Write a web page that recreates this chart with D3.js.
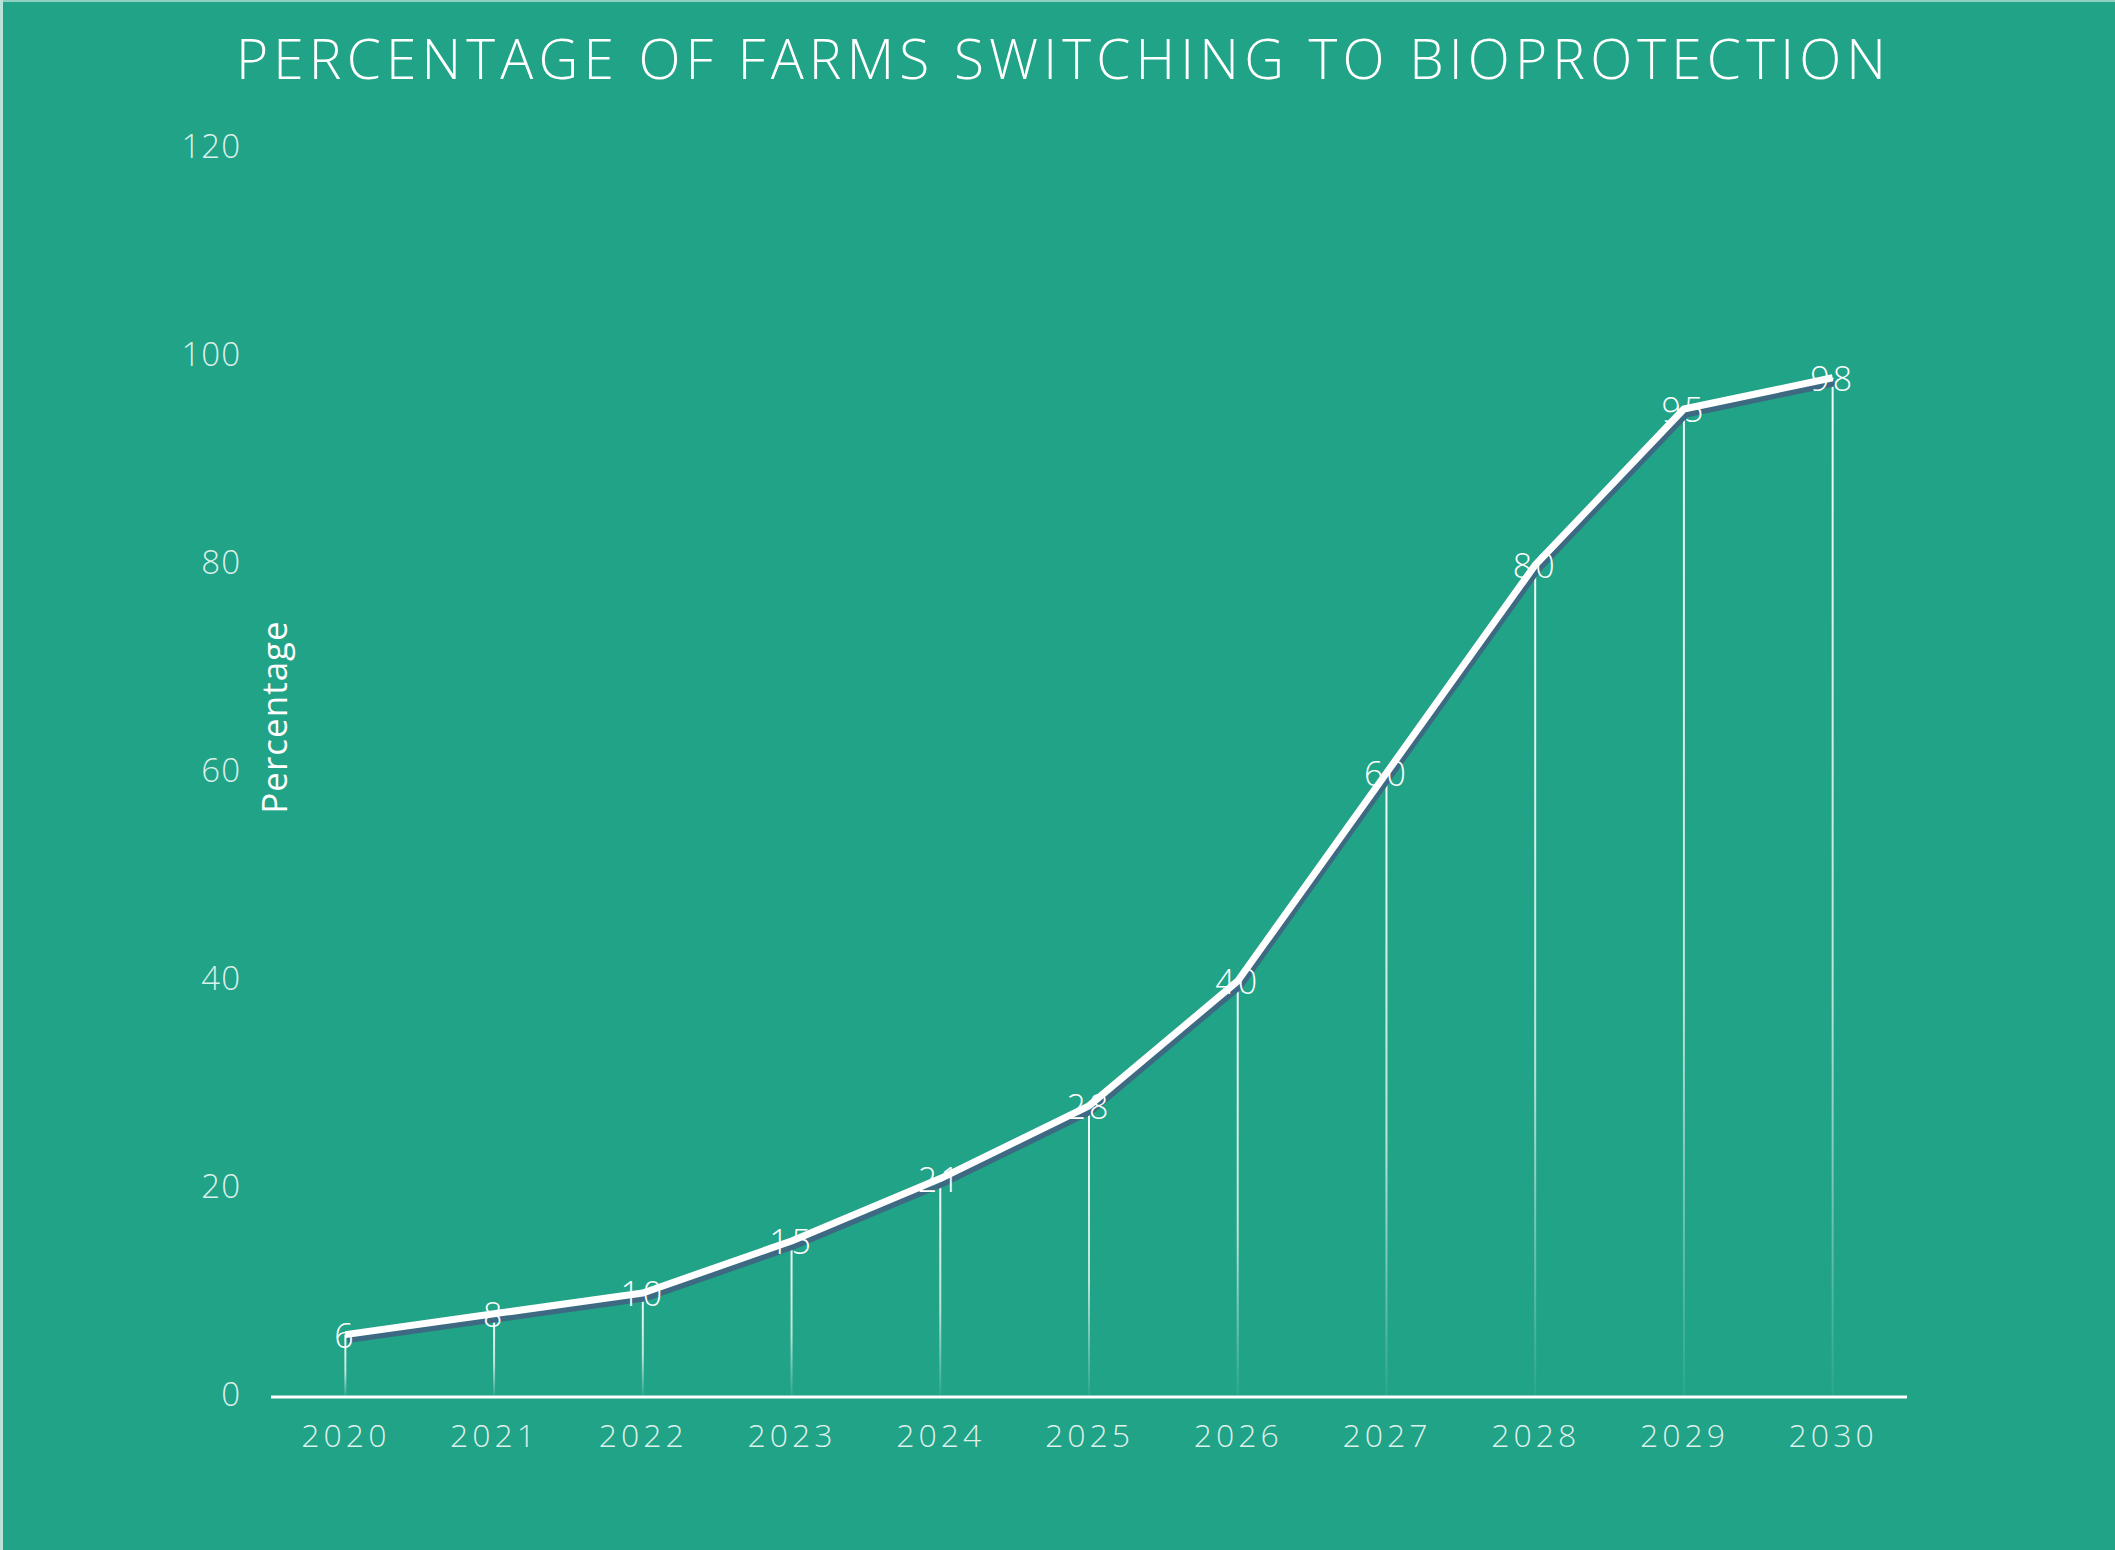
<!DOCTYPE html>
<html lang="en">
	<head>
		<meta charset="utf-8">
		<title>Percentage of farms switching to bioprotection</title>
		<script src="https://cdn.jsdelivr.net/npm/d3@7"></script>
		<style>
			html, body { margin: 0; padding: 0; background: #20a386; }
			svg { display: block; }
			text { font-family: "Open Sans", "DejaVu Sans", sans-serif; }
		</style>
	</head>
	<body>
		<div id="chart"></div>
		<script type="text/javascript">

		// data
		var years = ["2020", "2021", "2022", "2023", "2024", "2025", "2026", "2027", "2028", "2029", "2030"];
		var percentages = [6, 8, 10, 15, 21, 28, 40, 60, 80, 95, 98];
		var yTicks = [0, 20, 40, 60, 80, 100, 120];

		var w = 2115;
		var h = 1550;
		var margin = {top: 149, right: 208, bottom: 153, left: 271};

		var svg = d3.select("#chart")
			.append("svg")
			.attr("width", w)
			.attr("height", h);

		svg.append("rect")
			.attr("width", w)
			.attr("height", h)
			.attr("fill", "#20a386");

		// thin light edge at top and left
		svg.append("rect").attr("x", 0).attr("y", 0).attr("width", w).attr("height", 2).attr("fill", "#8fd0c0");
		svg.append("rect").attr("x", 0).attr("y", 0).attr("width", 3).attr("height", h).attr("fill", "#b9e2d8");

		var x = d3.scalePoint()
			.domain(years)
			.range([margin.left, w - margin.right])
			.padding(0.5);

		var y = d3.scaleLinear()
			.domain([0, 120])
			.range([h - margin.bottom, margin.top]);

		// title
		svg.append("text")
			.attr("x", 1061)
			.attr("y", 57)
			.attr("text-anchor", "middle")
			.attr("dominant-baseline", "central")
			.attr("fill", "#ffffff")
			.attr("font-size", 55)
			.attr("font-weight", 300)
			.attr("textLength", 1650)
			.attr("lengthAdjust", "spacing")
			.text("PERCENTAGE OF FARMS SWITCHING TO BIOPROTECTION");

		// y axis, labels only
		var yAxis = svg.append("g")
			.attr("transform", "translate(" + margin.left + ",0)")
			.call(d3.axisLeft(y).tickValues(yTicks).tickSize(0).tickPadding(30));
		yAxis.select(".domain").remove();
		yAxis.selectAll("text")
			.attr("fill", "rgba(255,255,255,0.85)")
			.attr("font-size", 33)
			.attr("font-weight", 300)
			.attr("font-family", "'Open Sans', sans-serif")
			.attr("letter-spacing", 1)
			.attr("dy", -4)
			.attr("dominant-baseline", "central");

		svg.append("text")
			.attr("transform", "translate(273,717) rotate(-90)")
			.attr("text-anchor", "middle")
			.attr("dominant-baseline", "central")
			.attr("fill", "#ffffff")
			.attr("font-size", 35)
			.attr("font-weight", 400)
			.attr("letter-spacing", 1)
			.text("Percentage");

		// gradient for the drop lines
		var defs = svg.append("defs");
		var grad = defs.append("linearGradient")
			.attr("id", "drop")
			.attr("x1", 0).attr("y1", 0)
			.attr("x2", 0).attr("y2", 1);
		grad.append("stop").attr("offset", "0%").attr("stop-color", "#ffffff").attr("stop-opacity", 0.95);
		grad.append("stop").attr("offset", "60%").attr("stop-color", "#ffffff").attr("stop-opacity", 0.7);
		grad.append("stop").attr("offset", "100%").attr("stop-color", "#ffffff").attr("stop-opacity", 0.05);

		svg.append("g")
			.selectAll("rect")
			.data(percentages)
			.join("rect")
			.attr("x", function(d, i) { return x(years[i]) - 1; })
			.attr("y", function(d) { return y(d); })
			.attr("width", 2)
			.attr("height", function(d) { return y(0) - y(d); })
			.attr("fill", "url(#drop)");

		// x axis
		var xAxis = svg.append("g")
			.attr("transform", "translate(0," + y(0) + ")")
			.call(d3.axisBottom(x).tickSize(0).tickPadding(41));
		xAxis.select(".domain")
			.attr("stroke", "#ffffff")
			.attr("stroke-width", 3)
			.attr("d", "M" + margin.left + ",0H" + (w - margin.right));
		xAxis.selectAll("text")
			.attr("fill", "rgba(255,255,255,0.85)")
			.attr("font-size", 32)
			.attr("font-weight", 300)
			.attr("font-family", "'Open Sans', sans-serif")
			.attr("letter-spacing", 4)
			.attr("dy", -4)
			.attr("dominant-baseline", "central");

		var line = d3.line()
			.x(function(d, i) { return x(years[i]); })
			.y(function(d) { return y(d); });

		// shadow then line
		svg.append("path")
			.datum(percentages)
			.attr("transform", "translate(2,5)")
			.attr("fill", "none")
			.attr("stroke", "#3d6a82")
			.attr("stroke-width", 7)
			.attr("stroke-linejoin", "round")
			.attr("d", line);

		svg.append("path")
			.datum(percentages)
			.attr("fill", "none")
			.attr("stroke", "#ffffff")
			.attr("stroke-width", 7)
			.attr("stroke-linejoin", "round")
			.attr("d", line);

		// value labels
		svg.append("g")
			.selectAll("text")
			.data(percentages)
			.join("text")
			.attr("x", function(d, i) { return x(years[i]); })
			.attr("y", function(d) { return y(d); })
			.attr("text-anchor", "middle")
			.attr("dominant-baseline", "central")
			.attr("fill", "#ffffff")
			.attr("font-size", 34)
			.attr("font-weight", 300)
			.attr("letter-spacing", 3)
			.text(function(d) { return d; });
		</script>
	</body>
</html>
